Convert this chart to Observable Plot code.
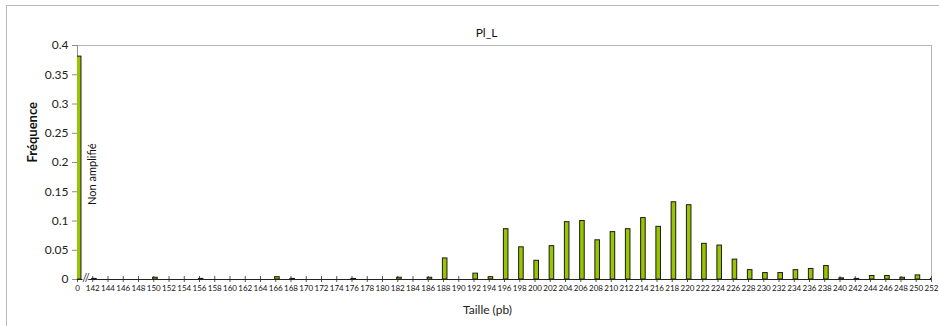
<!DOCTYPE html>
<html><head><meta charset="utf-8">
<script src="https://cdn.jsdelivr.net/npm/d3@7"></script>
<script src="https://cdn.jsdelivr.net/npm/@observablehq/plot@0.6"></script>
<style>
body{margin:0;background:#fff;}
#chart{position:relative;width:939px;height:326px;overflow:hidden;}
#border{position:absolute;left:6px;top:5px;width:1000px;height:400px;border:1px solid #b8b8b8;}
#chart svg{position:absolute;left:0;top:0;}
</style></head><body><div id="chart"><div id="border"></div></div>
<script>
const sizeLabels = ["0","142","144","146","148","150","152","154","156","158","160","162","164","166","168","170","172","174","176","178","180","182","184","186","188","190","192","194","196","198","200","202","204","206","208","210","212","214","216","218","220","222","224","226","228","230","232","234","236","238","240","242","244","246","248","250","252"];
const frequencies = [0.381,0.001,0,0,0,0.003,0,0,0.001,0,0,0,0,0.004,0.001,0,0,0,0.001,0,0,0.003,0,0.003,0.036,0,0.010,0.004,0.086,0.055,0.032,0.057,0.098,0.100,0.067,0.081,0.086,0.105,0.090,0.132,0.127,0.061,0.058,0.034,0.016,0.011,0.011,0.016,0.018,0.023,0.002,0.001,0.006,0.006,0.003,0.007,0.001];
const yTicks = [0,0.05,0.1,0.15,0.2,0.25,0.3,0.35,0.4];
const title = "Pl_L";
const xLabel = "Taille (pb)";
const yLabel = "Fréquence";
const annotation = "Non amplifié";
const breakMark = "//";

const data = sizeLabels.map((s, i) => ({i, size: s, f: frequencies[i]}));
const idx = sizeLabels.map((s, i) => i);
const W = 0.3, OFF = 0.11;

const plot = Plot.plot({
  width: 939, height: 326,
  marginLeft: 77, marginRight: 8, marginTop: 45, marginBottom: 47,
  style: {fontFamily: "Lato", background: "transparent", overflow: "visible", color: "#222"},
  x: {domain: [0, sizeLabels.length - 1]},
  y: {domain: [0, 0.4]},
  marks: [
    Plot.frame({anchor: "top", stroke: "#b4b4b4"}),
    Plot.frame({anchor: "right", stroke: "#b4b4b4"}),
    Plot.ruleX([0], {stroke: "#8c8c8c"}),
    Plot.axisY({ticks: yTicks, tickFormat: d => String(+d.toFixed(2)), tickSize: 5, tickPadding: 4, fontSize: 12, label: null, stroke: "#8c8c8c"}),
    Plot.axisX({ticks: idx, tickFormat: i => sizeLabels[i], tickSize: 3, tickPadding: 3, fontSize: 8, label: null, stroke: "#555", fill: "#111"}),
    Plot.axisX({ticks: idx, tickFormat: () => "", tickSize: -3, label: null, stroke: "#555"}),
    Plot.rectY(data, {x1: d => d.i - W / 2 + OFF, x2: d => d.i + W / 2 + OFF, y: "f", fill: "#99c400", stroke: "#1a1a1a", strokeWidth: 1, clip: true}),
    Plot.ruleY([0], {stroke: "#222"}),
    Plot.text([breakMark], {x: 0.55, y: 0, dy: -1, text: d => d, fontSize: 11, fill: "#222", stroke: "white", strokeWidth: 2}),
    Plot.text([annotation], {x: 0.97, y: 0.18, text: d => d, rotate: -90, fontSize: 11, fill: "#111"}),
    Plot.text([title], {frameAnchor: "top", dx: -18, dy: -17, text: d => d, fontSize: 12, fill: "#111"}),
    Plot.text([xLabel], {frameAnchor: "bottom", dx: -17, dy: 34, text: d => d, fontSize: 12, fill: "#222"}),
    Plot.text([yLabel], {frameAnchor: "left", dx: -45, rotate: -90, text: d => d, fontSize: 13, fontWeight: "bold", fill: "#111"})
  ]
});
document.getElementById("chart").appendChild(plot);
</script></body></html>
